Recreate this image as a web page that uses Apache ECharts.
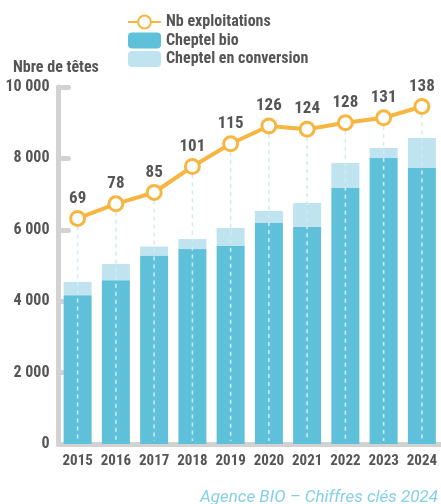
<!DOCTYPE html>
<html>
<head>
<meta charset="utf-8">
<script src="https://cdn.jsdelivr.net/npm/echarts@6/dist/echarts.min.js"></script>
<style>
html,body{margin:0;padding:0;background:#fff;}
#chart{width:441px;height:504px;}
</style>
</head>
<body>
<div id="chart"></div>
<script>
const years = ['2015','2016','2017','2018','2019','2020','2021','2022','2023','2024'];
const cheptelBio = [4170, 4590, 5280, 5460, 5550, 6190, 6080, 7170, 8010, 7730];
const cheptelConversion = [370, 450, 250, 280, 500, 340, 670, 700, 280, 840];
const nbExploitations = [69, 78, 85, 101, 115, 126, 124, 128, 131, 138];
const yTicks = [0, 2000, 4000, 6000, 8000, 10000];

const FONT = "'Roboto Condensed', 'DejaVu Sans Condensed', sans-serif";
const TXT = '#555555';
const AXIS = '#d2d2d2';
const LINE_MIN = -70, LINE_MAX = 150;

const fmt = v => String(v).replace(/\B(?=(\d{3})+(?!\d))/g, ' ');

const chart = echarts.init(document.getElementById('chart'), null, {renderer: 'canvas'});
chart.setOption({
  animation: false,
  textStyle: {fontFamily: FONT},
  title: [{
    text: 'Nbre de têtes', left: 13, top: 60, padding: 0,
    textStyle: {fontFamily: FONT, fontSize: 16, fontWeight: 'bold', color: TXT}
  }],
  graphic: [{
    type: 'text', right: 3, top: 489,
    style: {text: 'Agence BIO – Chiffres clés 2024', font: "italic 17px Roboto, sans-serif", fill: '#85d0e6'}
  }],
  legend: {
    orient: 'vertical', left: 127, top: 14, padding: 0,
    itemWidth: 33, itemHeight: 16, itemGap: 2.5,
    data: ['Nb exploitations', 'Cheptel bio', 'Cheptel en conversion'],
    textStyle: {fontFamily: FONT, fontSize: 16, fontWeight: 'bold', color: TXT, padding: [2, 0, 0, 0]}
  },
  grid: {left: 58.5, top: 87, width: 385, bottom: 60, containLabel: false},
  xAxis: {
    type: 'category', data: years,
    axisLine: {lineStyle: {color: AXIS, width: 5}},
    axisTick: {show: false},
    axisLabel: {interval: 0, margin: 10, fontFamily: FONT, fontSize: 15, fontWeight: 'bold', color: TXT}
  },
  yAxis: [{
    type: 'value', min: yTicks[0], max: yTicks[yTicks.length - 1], interval: yTicks[1] - yTicks[0],
    axisLine: {show: true, lineStyle: {color: AXIS, width: 5, cap: 'round'}},
    axisTick: {show: true, inside: true, length: 10, lineStyle: {color: AXIS, width: 5, cap: 'round'}},
    splitLine: {show: false},
    axisLabel: {margin: 9, formatter: fmt, fontFamily: FONT, fontSize: 16, fontWeight: 'bold', color: TXT}
  }, {
    type: 'value', min: LINE_MIN, max: LINE_MAX, show: false, splitLine: {show: false}
  }],
  series: [{
    name: 'Cheptel bio', type: 'bar', stack: 'c', data: cheptelBio, barWidth: 28,
    itemStyle: {color: '#5ec1d9'}, z: 1
  }, {
    name: 'Cheptel en conversion', type: 'bar', stack: 'c', data: cheptelConversion, barWidth: 28,
    itemStyle: {color: '#bfe3ef'}, z: 1
  }, {
    name: 'drops', type: 'custom', yAxisIndex: 1, z: 2,
    data: nbExploitations.map((v, i) => [i, v]),
    encode: {x: 0, y: 1},
    silent: true,
    renderItem: (params, api) => {
      const p = api.coord([api.value(0), api.value(1)]);
      const b = api.coord([api.value(0), LINE_MIN]);
      return {type: 'line', shape: {x1: p[0], y1: p[1] + 8, x2: b[0], y2: b[1] - 3},
        style: {stroke: '#d2eaf4', lineWidth: 1.5, lineDash: [4, 4]}};
    }
  }, {
    name: 'Nb exploitations', type: 'line', yAxisIndex: 1, data: nbExploitations, z: 5,
    symbol: 'circle', symbolSize: 14, showAllSymbol: true,
    lineStyle: {color: '#f7b642', width: 4},
    itemStyle: {color: '#ffffff', borderColor: '#f7b642', borderWidth: 3},
    label: {show: true, position: 'top', distance: 3, fontFamily: FONT, fontSize: 17, fontWeight: 'bold', color: TXT}
  }]
});
</script>
</body>
</html>
